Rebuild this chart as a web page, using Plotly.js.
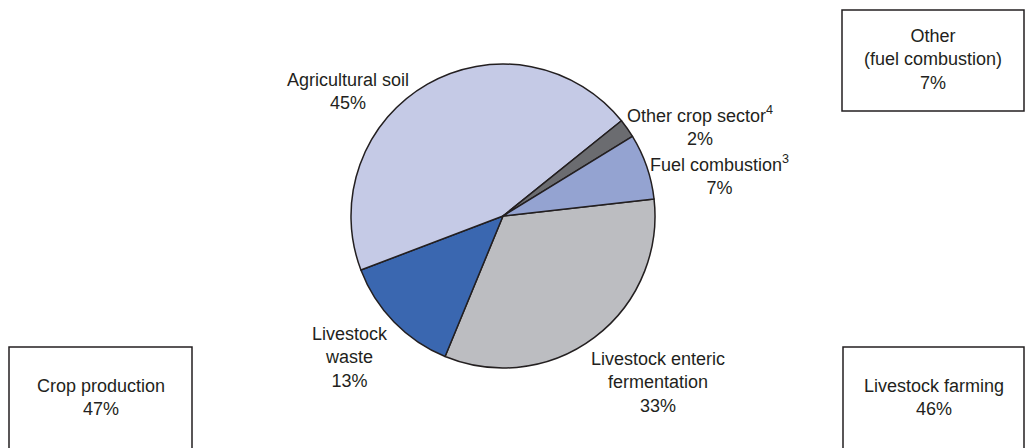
<!DOCTYPE html>
<html>
<head>
<meta charset="utf-8">
<script src="https://cdn.plot.ly/plotly-3.0.1.min.js"></script>
<style>html,body{margin:0;padding:0;background:#fff;}#chart{width:1026px;height:448px;}</style>
</head>
<body>
<div id="chart"></div>
<script>
// Data (clockwise from ~3 o'clock)
const categories = ["Livestock enteric fermentation", "Livestock waste", "Agricultural soil", "Other crop sector", "Fuel combustion"];
const shares = [33, 13, 45, 2, 7];
const sliceColors = ["#bcbdc1", "#3a67b0", "#c5cae6", "#6b6c70", "#94a3d1"];
const sliceLabels = ["Livestock enteric<br>fermentation<br>33%", "Livestock<br>waste<br>13%", "Agricultural soil<br>45%", "Other crop sector<sup>4</sup><br>2%", "Fuel combustion<sup>3</sup><br>7%"];
const groupLabels = ["Other<br>(fuel combustion)<br>7%", "Crop production<br>47%", "Livestock farming<br>46%"];

const W = 1026, H = 448;
const px = x => x / W;
const py = y => 1 - y / H;

// label centre positions (pixels)
const labelPos = [[658, 382], [350, 357], [348, 91], [700, 126], [719, 175]];
const boxRects = [[842, 10, 1024, 111], [9, 347, 192, 460], [843, 347, 1024, 460]];

const font = {family: "Liberation Sans, Arial, sans-serif", size: 18, color: "#231f20"};

const annotations = [];
sliceLabels.forEach((t, i) => {
  annotations.push({text: t, x: px(labelPos[i][0]), y: py(labelPos[i][1]), xref: "paper", yref: "paper",
    showarrow: false, align: "center", xanchor: "center", yanchor: "middle", font: font});
});
const shapes = [];
groupLabels.forEach((t, i) => {
  const r = boxRects[i];
  shapes.push({type: "rect", xref: "paper", yref: "paper", x0: px(r[0]), x1: px(r[2]), y0: py(r[3]), y1: py(r[1]),
    line: {color: "#231f20", width: 1.5}, fillcolor: "rgba(0,0,0,0)"});
  const cy = i === 0 ? 60 : 397;
  annotations.push({text: t, x: px((r[0] + r[2]) / 2), y: py(cy), xref: "paper", yref: "paper",
    showarrow: false, align: "center", xanchor: "center", yanchor: "middle", font: font});
});

const cx = 503, cyc = 216, R = 152;
const data = [{
  type: "pie",
  labels: categories,
  values: shares,
  sort: false,
  direction: "clockwise",
  rotation: 83.6,
  textinfo: "none",
  hoverinfo: "label+percent",
  marker: {colors: sliceColors, line: {color: "#231f20", width: 1.5}},
  domain: {x: [px(cx - R), px(cx + R)], y: [py(cyc + R), py(cyc - R)]}
}];

const layout = {
  width: W, height: H,
  margin: {l: 0, r: 0, t: 0, b: 0},
  paper_bgcolor: "#ffffff",
  showlegend: false,
  annotations: annotations,
  shapes: shapes
};
Plotly.newPlot("chart", data, layout, {staticPlot: true, displayModeBar: false});
</script>
</body>
</html>
